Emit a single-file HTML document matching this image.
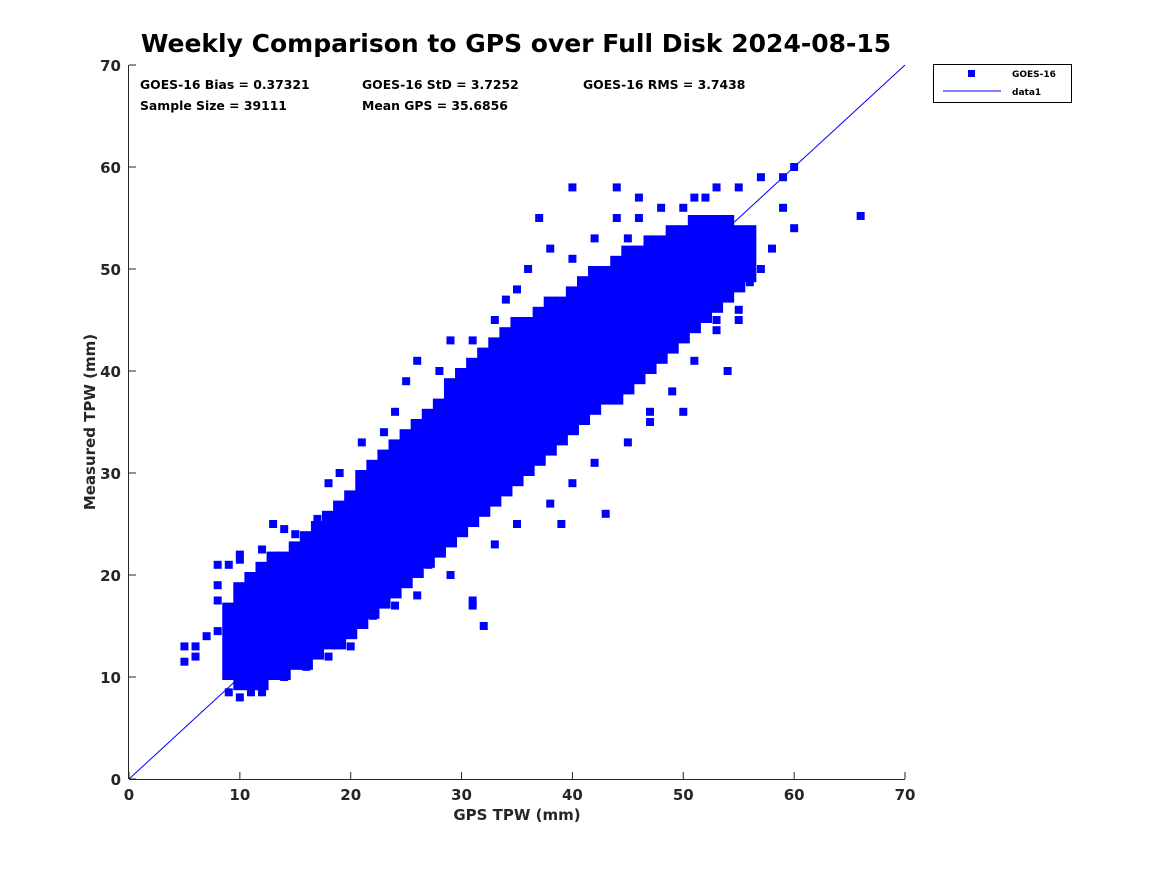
<!DOCTYPE html>
<html><head><meta charset="utf-8"><style>
body{margin:0;background:#fff;}
svg text{font-family:"DejaVu Sans","Liberation Sans",sans-serif;}
</style></head><body>
<svg id="chart" width="1167" height="875" xmlns="http://www.w3.org/2000/svg">
<rect width="1167" height="875" fill="#fff"/>
<text x="516" y="52" text-anchor="middle" font-size="25" font-weight="bold" fill="#000">Weekly Comparison to GPS over Full Disk 2024-08-15</text>
<g id="plot"></g>
<g id="axes"></g>
<g font-size="12.4" font-weight="bold" fill="#000">
<text x="140" y="89">GOES-16 Bias = 0.37321</text>
<text x="362" y="89">GOES-16 StD = 3.7252</text>
<text x="583" y="89">GOES-16 RMS = 3.7438</text>
<text x="140" y="110">Sample Size = 39111</text>
<text x="362" y="110">Mean GPS = 35.6856</text>
</g>
<g>
<rect x="933.5" y="64.5" width="138" height="38" fill="#fff" stroke="#000" stroke-width="1"/>
<rect x="968" y="70" width="7" height="7" fill="#0000ff"/>
<text x="1012" y="77" font-size="9" font-weight="bold">GOES-16</text>
<line x1="943" y1="91" x2="1001" y2="91" stroke="#0000ff"/>
<text x="1012" y="95" font-size="9" font-weight="bold">data1</text>
</g>
</svg>
<script>
const binGps=[9,10,11,12,13,14,15,16,17,18,19,20,21,22,23,24,25,26,27,28,29,30,31,32,33,34,35,36,37,38,39,40,41,42,43,44,45,46,47,48,49,50,51,52,53,54,55,56];
const binLo=[10,9,9,9,10,10,11,11,12,13,13,14,15,16,17,18,19,20,21,22,23,24,25,26,27,28,29,30,31,32,33,34,35,36,37,37,38,39,40,41,42,43,44,45,46,47,48,49];
const binHi=[17,19,20,21,22,22,23,24,25,26,27,28,30,31,32,33,34,35,36,37,39,40,41,42,43,44,45,45,46,47,47,48,49,50,50,51,52,52,53,53,54,54,55,55,55,55,54,54];
const ptGps=[5,5,6,6,7,8,8,8,8,9,10,12,14,15,17,18,19,21,23,24,25,26,28,29,31,33,34,35,36,38,40,42,44,46,48,51,53,55,57,59,60,60,59,58,57,56,55,53,51,49,47,45,42,40,38,35,33,31,31,29,27,26,24,23,22,20,18,16,14,12,10,11,9,66,39,43,25,28,47,50,54,55,37,40,44,46,53,32,17,10,13,20,22,45,50,52];
const ptTpw=[11.5,13,12,13,14,21,19,17.5,14.5,21,21.5,22.5,24.5,24,25.5,29,30,33,34,36,39,41,40,43,43,45,47,48,50,52,51,53,55,55,56,57,58,58,59,59,60,54,56,52,50,48.7,46,44,41,38,36,33,31,29,27,25,23,17,17.5,20,21,18,17,18,16,13,12,11,10,8.5,8,8.5,8.5,55.2,25,26,22,26,35,36,40,45,55,58,58,57,45,15,25,22,25,26,30,53,56,57];
const xTicks=[0,10,20,30,40,50,60,70];
const yTicks=[0,10,20,30,40,50,60,70];
const NS="http://www.w3.org/2000/svg";
const X0=129,X1=905,Y0=779,Y1=65;
const sx=v=>X0+(X1-X0)*v/70, sy=v=>Y0-(Y0-Y1)*v/70;
const plot=document.getElementById('plot'), axes=document.getElementById('axes');
function mk(tag,attrs,parent){const e=document.createElementNS(NS,tag);for(const k in attrs)e.setAttribute(k,attrs[k]);parent.appendChild(e);return e;}
binGps.forEach((g,i)=>{
  const r=mk('rect',{x:sx(g-0.5)-1,y:sy(binHi[i])-3,width:sx(1)-sx(0)+2,height:sy(binLo[i])-sy(binHi[i])+6,fill:'#0000ff'},plot);
  
  
});
ptGps.forEach((g,i)=>{
  const r=mk('rect',{x:sx(g)-4,y:sy(ptTpw[i])-4,width:8,height:8,fill:'#0000ff'},plot);
  
  
});
const dl=mk('line',{x1:sx(0),y1:sy(0),x2:sx(70),y2:sy(70),stroke:'#0000ff','stroke-width':1},plot);


mk('line',{x1:X0,y1:Y0+0.5,x2:X1,y2:Y0+0.5,stroke:'#262626'},axes);
mk('line',{x1:X0-0.5,y1:Y0,x2:X0-0.5,y2:Y1,stroke:'#262626'},axes);
xTicks.forEach(t=>{
  mk('line',{x1:sx(t),y1:Y0,x2:sx(t),y2:Y0-7,stroke:'#262626'},axes);
  const l=mk('text',{x:sx(t),y:Y0+21,'text-anchor':'middle','font-size':15,'font-weight':'bold',fill:'#262626'},axes);
  l.textContent=t;
  
  
});
yTicks.forEach(t=>{
  mk('line',{x1:X0,y1:sy(t),x2:X0+7,y2:sy(t),stroke:'#262626'},axes);
  const l=mk('text',{x:X0-8,y:sy(t)+6,'text-anchor':'end','font-size':15,'font-weight':'bold',fill:'#262626'},axes);
  l.textContent=t;
  
  
});
const xt=mk('text',{x:517,y:820,'text-anchor':'middle','font-size':15,'font-weight':'bold',fill:'#262626'},axes);
xt.textContent='GPS TPW (mm)';


const yt=mk('text',{x:95,y:422,'text-anchor':'middle','font-size':15,'font-weight':'bold',fill:'#262626',transform:'rotate(-90 95 422)'},axes);
yt.textContent='Measured TPW (mm)';


</script>
</body></html>
